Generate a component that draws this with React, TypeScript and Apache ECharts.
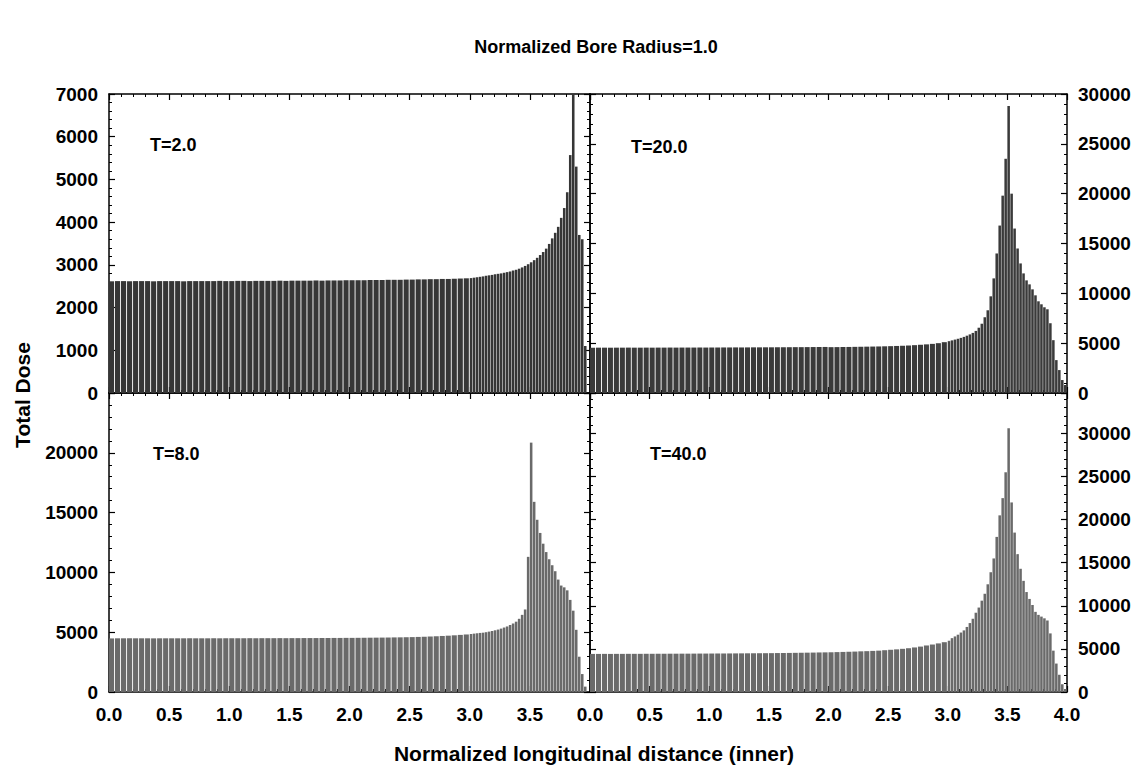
import React, { useEffect, useRef } from "react";
import * as echarts from "echarts";

// ---- data (Total Dose per longitudinal bin) ----
// coarse bins: 0.05 wide from 0.0 to 3.0 ; fine bins: 0.025 wide from 3.0 to 4.0
const coarseWidth = 0.05;
const fineWidth = 0.025;
const fineStart = 3.0;

const t2Coarse = [
  2615, 2620, 2620, 2615, 2620, 2620, 2620, 2615, 2620, 2620, 2620, 2620, 2615, 2620, 2620, 2620, 2620, 2620, 2625, 2620,
  2620, 2625, 2625, 2620, 2625, 2625, 2625, 2625, 2630, 2625, 2630, 2630, 2630, 2630, 2635, 2630, 2635, 2635, 2635, 2640,
  2640, 2640, 2640, 2645, 2645, 2645, 2650, 2650, 2650, 2655, 2655, 2660, 2660, 2665, 2665, 2670, 2670, 2675, 2680, 2685,
];
const t2Fine = [
  2690, 2700, 2710, 2720, 2730, 2745, 2755, 2765, 2780, 2790, 2800, 2815, 2830, 2845, 2865, 2885, 2910, 2940, 2975, 3015,
  3060, 3110, 3165, 3230, 3300, 3380, 3490, 3620, 3750, 3890, 4100, 4330, 4700, 5570, 7000, 5300, 3700, 3600, 1100, 0,
];

const t20Coarse = [
  4540, 4550, 4550, 4545, 4550, 4550, 4555, 4550, 4550, 4555, 4550, 4555, 4555, 4560, 4555, 4560, 4560, 4560, 4565, 4560,
  4565, 4565, 4570, 4570, 4575, 4570, 4575, 4580, 4580, 4585, 4585, 4590, 4590, 4595, 4600, 4600, 4605, 4610, 4615, 4620,
  4600, 4605, 4615, 4620, 4630, 4640, 4650, 4660, 4670, 4685, 4700, 4720, 4740, 4765, 4800, 4840, 4880, 4930, 5000, 5100,
];
const t20Fine = [
  5200, 5280, 5360, 5440, 5530, 5630, 5750, 5880, 6030, 6230, 6550, 6950, 7600, 8300, 9700, 11500, 14000, 16800, 19800, 23500,
  28800, 20000, 16500, 14500, 13000, 12000, 11300, 10900, 10400, 9800, 9200, 8900, 8600, 8400, 7000, 5300, 3300, 2300, 1300, 800,
];

const t8Coarse = [
  4480, 4490, 4490, 4485, 4490, 4490, 4490, 4485, 4490, 4490, 4490, 4490, 4490, 4495, 4490, 4490, 4490, 4495, 4490, 4495,
  4495, 4495, 4495, 4500, 4495, 4500, 4500, 4500, 4505, 4500, 4505, 4505, 4510, 4510, 4510, 4515, 4515, 4520, 4520, 4525,
  4525, 4530, 4535, 4540, 4545, 4550, 4555, 4565, 4570, 4580, 4590, 4605, 4620, 4640, 4660, 4685, 4710, 4740, 4775, 4810,
];
const t8Fine = [
  4850, 4880, 4910, 4940, 4960, 5000, 5050, 5100, 5160, 5220, 5300, 5390, 5480, 5600, 5730, 5880, 6120, 6450, 6900, 11300,
  20850, 15900, 14400, 13300, 12400, 11700, 11100, 10600, 10100, 9400, 8900, 8750, 8500, 7700, 6800, 5200, 2950, 1500, 450, 0,
];

const t40Coarse = [
  4420, 4420, 4425, 4420, 4425, 4425, 4430, 4430, 4430, 4435, 4435, 4440, 4440, 4445, 4445, 4450, 4450, 4455, 4460, 4460,
  4465, 4470, 4470, 4475, 4480, 4485, 4490, 4495, 4500, 4505, 4510, 4520, 4525, 4535, 4545, 4555, 4565, 4575, 4590, 4600,
  4610, 4630, 4650, 4670, 4690, 4720, 4740, 4770, 4800, 4850, 4900, 4950, 5010, 5080, 5170, 5270, 5400, 5510, 5640, 5780,
];
const t40Fine = [
  5950, 6250, 6450, 6650, 6900, 7150, 7550, 8000, 8500, 9200, 9800, 10600, 11400, 12500, 13900, 15500, 18000, 20500, 22500, 25500,
  30600, 22000, 18500, 16000, 14300, 12900, 11600, 10800, 10100, 9300, 8950, 8750, 8550, 8300, 6800, 4800, 3300, 2000, 900, 350,
];

const panelLabels = ["T=2.0", "T=20.0", "T=8.0", "T=40.0"];
const yMax = [7000, 30000, 25000, 34700];
const yInterval = [1000, 5000, 5000, 5000];
const yLabelMax = [7000, 30000, 20000, 30000];
const xTickInterval = 0.5;

const title = "Normalized Bore Radius=1.0";
const xName = "Normalized longitudinal distance (inner)";
const yName = "Total Dose";

function toBins(coarse: number[], fine: number[]) {
  const out: number[][] = [];
  coarse.forEach((v, i) => out.push([i * coarseWidth, (i + 1) * coarseWidth, v]));
  fine.forEach((v, i) => out.push([fineStart + i * fineWidth, fineStart + (i + 1) * fineWidth, v]));
  return out;
}

const panelData = [
  toBins(t2Coarse, t2Fine),
  toBins(t20Coarse, t20Fine),
  toBins(t8Coarse, t8Fine),
  toBins(t40Coarse, t40Fine),
];

const FONT = "'Liberation Sans', Arial, Helvetica, sans-serif";
const fills = ["#363636", "#3a3a3a", "#6a6a6a", "#6a6a6a"];

export default function App() {
  const ref = useRef<HTMLDivElement>(null);
  useEffect(() => {
    document.body.style.margin = "0";
    if (!ref.current) return;
    const chart = echarts.init(ref.current, undefined, { renderer: "svg" });

    const grids = [
      { left: 109, top: 94, width: 481, height: 299 },
      { left: 590, top: 94, width: 477, height: 299 },
      { left: 109, top: 393, width: 481, height: 299 },
      { left: 590, top: 393, width: 477, height: 299 },
    ].map((g) => ({ ...g, outerBoundsMode: "none", containLabel: false, show: false }));

    const lineStyle = { color: "#000", width: 1.5 };
    const xAxes: any[] = [];
    const yAxes: any[] = [];
    for (let g = 0; g < 4; g++) {
      const isBottom = g >= 2;
      const isRight = g % 2 === 1;
      for (const pos of ["bottom", "top"]) {
        xAxes.push({
          gridIndex: g,
          type: "value",
          position: pos,
          min: 0,
          max: 4,
          interval: xTickInterval,
          axisLine: { show: true, onZero: false, lineStyle },
          axisTick: { show: true, inside: true, length: 6, lineStyle: { color: "#000", width: 1.2 } },
          minorTick: { show: true, splitNumber: 5, length: 3, lineStyle: { color: "#000", width: 1 } },
          splitLine: { show: false },
          axisLabel: {
            show: isBottom && pos === "bottom",
            margin: 13,
            fontSize: 19,
            fontWeight: "bold",
            color: "#000",
            fontFamily: FONT,
            formatter: (v: number) => (!isRight && v > 3.9 ? "" : v.toFixed(1)),
          },
        });
      }
      for (const pos of ["left", "right"]) {
        const labelled = (pos === "left" && !isRight) || (pos === "right" && isRight);
        yAxes.push({
          gridIndex: g,
          type: "value",
          position: pos,
          min: 0,
          max: yMax[g],
          interval: yInterval[g],
          axisLine: { show: true, onZero: false, lineStyle },
          axisTick: { show: true, inside: true, length: 6, lineStyle: { color: "#000", width: 1.2 } },
          minorTick: { show: true, splitNumber: 5, length: 3, lineStyle: { color: "#000", width: 1 } },
          splitLine: { show: false },
          axisLabel: {
            show: labelled,
            margin: 11,
            fontSize: 19,
            fontWeight: "bold",
            color: "#000",
            fontFamily: FONT,
            showMaxLabel: true,
            formatter: (v: number) => (v > yLabelMax[g] + 1 ? "" : String(Math.round(v))),
          },
        });
      }
    }

    const series = panelData.map((data, g) => {
      const isRight = g % 2 === 1;
      return {
        type: "custom",
        xAxisIndex: g * 2,
        yAxisIndex: g * 2 + (isRight ? 1 : 0),
        dimensions: ["x0", "x1", "dose"],
        encode: { x: [0, 1], y: 2 },
        data,
        clip: true,
        renderItem: (params: any, api: any) => {
          const p0 = api.coord([api.value(0), api.value(2)]);
          const p1 = api.coord([api.value(1), 0]);
          const w = p1[0] - p0[0];
          const gap = w > 4 ? 0.9 : 0.45;
          return {
            type: "rect",
            shape: { x: p0[0], y: p0[1], width: Math.max(w - gap, 0.6), height: p1[1] - p0[1] },
            style: { fill: fills[g] },
          };
        },
      };
    });

    const txt = (x: number, y: number, text: string, size: number, align = "left", rotation = 0) => ({
      type: "text",
      x,
      y,
      rotation,
      style: {
        text,
        fontSize: size,
        fontWeight: "bold",
        fontFamily: FONT,
        fill: "#000",
        textAlign: align,
        textVerticalAlign: "middle",
      },
    });

    chart.setOption({
      animation: false,
      backgroundColor: "#fff",
      grid: grids,
      xAxis: xAxes,
      yAxis: yAxes,
      series,
      graphic: [
        txt(596, 47, title, 18, "center"),
        txt(594, 753, xName, 21, "center"),
        txt(22, 395, yName, 21, "center", Math.PI / 2),
        txt(150, 145, panelLabels[0], 18),
        txt(631, 147, panelLabels[1], 18),
        txt(153, 454, panelLabels[2], 18),
        txt(650, 454, panelLabels[3], 18),
      ],
    });
    return () => chart.dispose();
  }, []);
  return <div ref={ref} style={{ width: 1138, height: 771 }} />;
}
